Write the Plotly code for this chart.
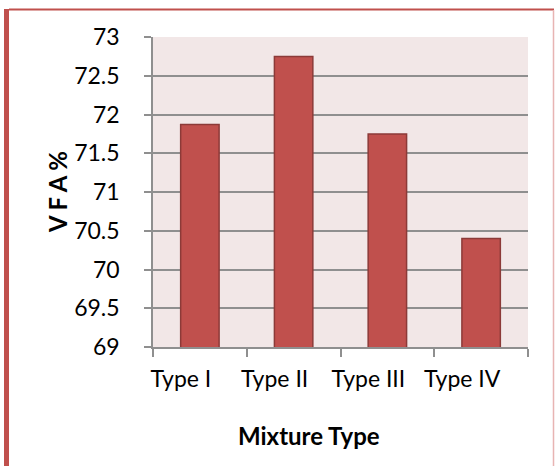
import plotly.graph_objects as go

# Voids filled with asphalt for each mixture
mixtures = ["Type I", "Type II", "Type III", "Type IV"]
vfa = [71.87, 72.75, 71.75, 70.40]
y_ticks = [69, 69.5, 70, 70.5, 71, 71.5, 72, 72.5, 73]
y_tick_text = ["69", "69.5", "70", "70.5", "71", "71.5", "72", "72.5", "73"]

W, H = 555, 466
ML, MR, MT, MB = 153, 27, 37, 119
PW, PH = W - ML - MR, H - MT - MB


def px_x(p):
    return (p - ML) / PW


def px_y(p):
    return (H - MB - p) / PH


FONT = "Lato, 'Open Sans', sans-serif"
GRID = "#8f8f8f"

fig = go.Figure(
    go.Bar(
        x=mixtures,
        y=vfa,
        marker=dict(color="#C0504D", line=dict(color="#8C3A38", width=1.5)),
        width=0.41,
    )
)

fig.update_layout(
    width=W,
    height=H,
    margin=dict(l=ML, r=MR, t=MT, b=MB),
    paper_bgcolor="white",
    plot_bgcolor="#F2E7E7",
    showlegend=False,
    font=dict(family=FONT, size=23, color="black"),
    xaxis=dict(
        showgrid=False,
        showline=True,
        linecolor=GRID,
        linewidth=1.5,
        ticks="outside",
        tickson="boundaries",
        ticklen=8,
        tickcolor=GRID,
        tickwidth=1.5,
        ticklabelshift=-19,
        ticklabelstandoff=11,
        tickfont=dict(size=23),
    ),
    yaxis=dict(
        range=[69, 73],
        tickvals=y_ticks,
        ticktext=y_tick_text,
        showgrid=True,
        gridcolor=GRID,
        gridwidth=1.5,
        showline=True,
        linecolor=GRID,
        linewidth=1.5,
        ticks="outside",
        ticklen=7,
        tickcolor=GRID,
        tickwidth=1.5,
        zeroline=False,
        ticklabelposition="outside",
        ticklabelstandoff=20,
        tickfont=dict(size=23),
    ),
    annotations=[
        dict(
            text="<b>Mixture Type</b>",
            x=px_x(309), y=px_y(435),
            xref="paper", yref="paper",
            showarrow=False, xanchor="center", yanchor="middle",
            font=dict(size=24),
        ),
        dict(
            text="<b>V F A %</b>",
            x=px_x(57), y=px_y(192),
            xref="paper", yref="paper",
            showarrow=False, xanchor="center", yanchor="middle",
            textangle=-90,
            font=dict(size=24),
        ),
    ],
    shapes=[
        # chart frame
        dict(type="rect", xref="paper", yref="paper", layer="above",
             x0=px_x(4), x1=px_x(9), y0=px_y(H + 5), y1=px_y(9),
             fillcolor="#C0504D", line=dict(width=0)),
        dict(type="line", xref="paper", yref="paper",
             x0=px_x(9), x1=px_x(554), y0=px_y(9.5), y1=px_y(9.5),
             line=dict(color="#C0504D", width=2)),
        dict(type="line", xref="paper", yref="paper",
             x0=px_x(553.5), x1=px_x(553.5), y0=px_y(10), y1=px_y(H + 5),
             line=dict(color="#E8B4B3", width=1.5)),
    ],
)

fig.write_html("out.html")
